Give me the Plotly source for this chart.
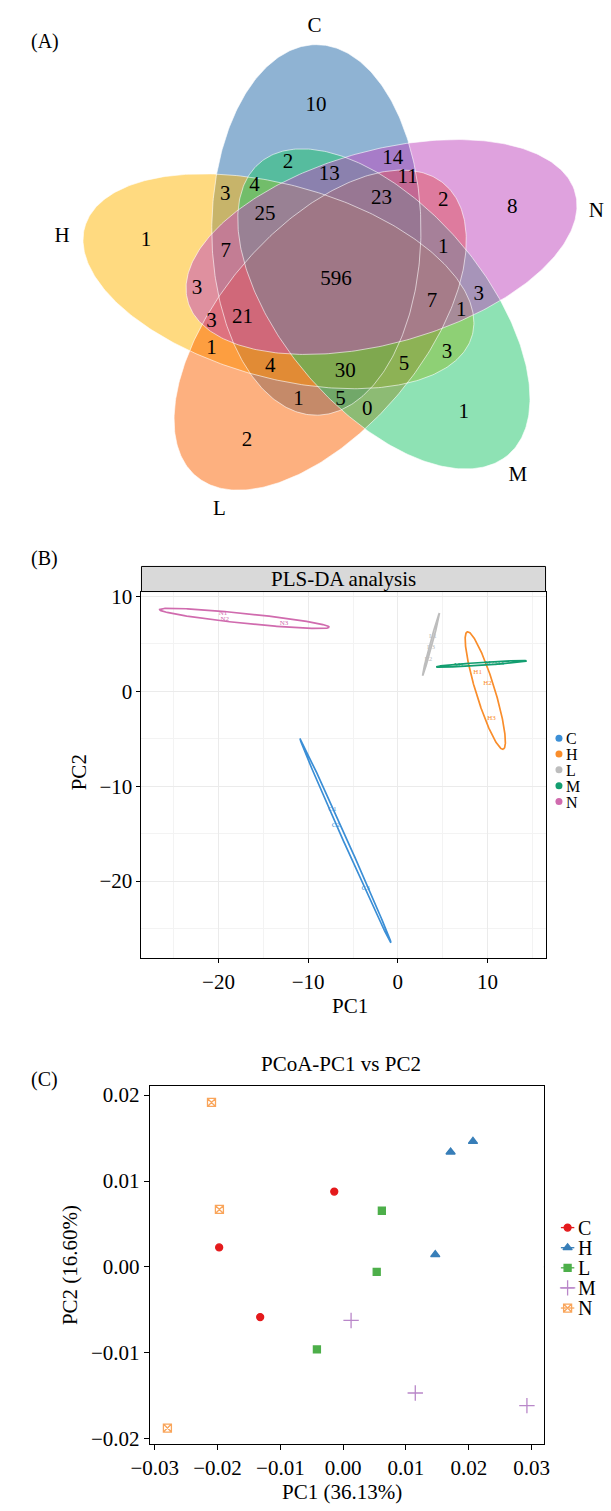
import numpy as np
import plotly.graph_objects as go

W, H = 611, 1511
FONT = "Liberation Serif"
FS = 21


def px(x):
    return x / W


def py(y):
    return 1 - y / H


# ---------------- Panel A: five-set Venn diagram ----------------
venn_names = ["C", "N", "M", "L", "H"]
venn_fill = {
    "C": "rgba(31,103,167,0.5)",
    "N": "rgba(191,69,189,0.5)",
    "M": "rgba(29,197,105,0.5)",
    "L": "rgba(251,97,0,0.5)",
    "H": "rgba(255,181,1,0.5)",
}
venn_draw_order = ["C", "H", "L", "M", "N"]

# region counts and where each one is written (pixel coordinates)
venn_counts = [10, 14, 13, 2, 11, 3, 4, 23, 2, 8, 25, 1, 7, 1, 596, 3, 3, 7, 1,
               3, 21, 1, 4, 30, 5, 3, 1, 5, 0, 1, 2]
venn_count_x = [309.8, 389.7, 323.5, 280.6, 405.3, 215.1, 245.5, 378.0, 442.3, 514.4,
                256.4, 132.5, 215.5, 442.3, 330.5, 185.5, 479.3, 430.6, 461.0,
                200.7, 233.0, 200.7, 261.9, 340.2, 401.4, 446.2, 291.5, 335.1,
                363.2, 463.8, 237.7]
venn_count_y = [100.0, 152.7, 169.3, 156.7, 172.7, 189.3, 180.0, 194.0, 196.0, 202.3,
                209.3, 236.0, 247.3, 243.3, 275.0, 284.0, 290.0, 297.7, 306.7,
                317.7, 313.3, 345.0, 362.7, 367.7, 360.7, 349.3, 396.7, 396.7,
                406.7, 410.0, 438.3]
venn_name_x = [308, 602, 520, 209, 45]
venn_name_y = [20, 207, 473, 507, 232]

# ellipse geometry: congruent ellipses rotated in 72 degree steps, stretched in x
VENN_OX, VENN_OY = 330.6, 275.0
VENN_R = 53.2
VENN_PHASE = -20.0
VENN_A, VENN_B = 187.0, 96.5
VENN_SX = 1.13


def venn_ellipse(k, n=360):
    th = np.radians(VENN_PHASE + 72 * k)
    cx = VENN_OX + VENN_SX * VENN_R * np.sin(th)
    cy = VENN_OY - VENN_R * np.cos(th)
    a = np.radians(72 * k)
    t = np.linspace(0, 2 * np.pi, n)
    ux, uy = np.sin(a), -np.cos(a)
    vx, vy = np.cos(a), np.sin(a)
    ex = VENN_A * np.cos(t) * ux + VENN_B * np.sin(t) * vx
    ey = VENN_A * np.cos(t) * uy + VENN_B * np.sin(t) * vy
    return cx + VENN_SX * ex, cy + ey


# ---------------- Panel B: PLS-DA ----------------
pls_groups = ["C", "H", "L", "M", "N"]
pls_colors = ["#3C8FD6", "#F98D2B", "#BDBDBD", "#139E70", "#D06BAE"]
pls_pc1 = [[-7.3, -6.9, -3.6], [8.9, 10.0, 10.45], [3.9, 3.4, 3.7],
           [6.8, 10.2, 11.3], [-19.5, -19.3, -12.7]]
pls_pc2 = [[-12.45, -14.1, -20.7], [2.0, 0.84, -2.8], [5.8, 3.4, 4.6],
           [2.75, 2.95, 3.0], [8.2, 7.6, 7.2]]
# confidence ellipses: centre x, centre y, semi-major, semi-minor, angle (deg)
pls_ellipses = [(-5.83, -15.77, 11.86, 0.21, -64.75),
                (9.75, 0.08, 6.5, 1.05, -72.0),
                (3.70, 4.95, 3.43, 0.12, 74.0),
                (9.32, 2.89, 5.05, 0.15, 3.5),
                (-17.1, 7.68, 9.51, 0.52, -5.6)]

# ---------------- Panel C: PCoA ----------------
pcoa_groups = ["C", "H", "L", "M", "N"]
pcoa_colors = ["#E41A1C", "#377EB8", "#4DAF4A", "#B987C9", "#F9A55B"]
pcoa_symbols = ["circle", "triangle-up", "square", "cross-thin-open", "square-x-open"]
pcoa_sizes = [7, 8, 7, 11, 8]
pcoa_pc1 = [[-0.00142, -0.01974, -0.01321], [0.02066, 0.0171, 0.01466],
            [0.00616, 0.00534, -0.00418], [0.00126, 0.01148, 0.02925],
            [-0.02096, -0.0197, -0.02798]]
pcoa_pc2 = [[0.00877, 0.00227, -0.00584], [0.01461, 0.01338, 0.00143],
            [0.00654, -0.00058, -0.00961], [-0.00623, -0.01468, -0.01615],
            [0.01915, 0.00669, -0.01876]]

fig = go.Figure()

# Venn fills
for name in venn_draw_order:
    k = venn_names.index(name)
    ex, ey = venn_ellipse(k)
    fig.add_trace(go.Scatter(x=ex, y=ey, mode="lines", fill="toself",
                             fillcolor=venn_fill[name], line=dict(width=0),
                             hoverinfo="skip", showlegend=False, xaxis="x", yaxis="y"))
# faint outlines
for name in venn_draw_order:
    k = venn_names.index(name)
    ex, ey = venn_ellipse(k)
    fig.add_trace(go.Scatter(x=ex, y=ey, mode="lines",
                             line=dict(width=1, color="rgba(255,255,255,0.6)"),
                             hoverinfo="skip", showlegend=False, xaxis="x", yaxis="y"))
fig.add_trace(go.Scatter(x=venn_count_x, y=venn_count_y, mode="text",
                         text=[str(v) for v in venn_counts],
                         textfont=dict(family=FONT, size=FS, color="black"),
                         hoverinfo="skip", showlegend=False, xaxis="x", yaxis="y"))
fig.add_trace(go.Scatter(x=venn_name_x, y=venn_name_y, mode="text", text=venn_names,
                         textfont=dict(family=FONT, size=FS, color="black"),
                         hoverinfo="skip", showlegend=False, xaxis="x", yaxis="y"))

# PLS-DA ellipses and sample labels
t = np.linspace(0, 2 * np.pi, 300)
for g, col, (cx, cy, a, b, ang), xs, ys in zip(pls_groups, pls_colors, pls_ellipses,
                                                pls_pc1, pls_pc2):
    r = np.radians(ang)
    ex = cx + a * np.cos(t) * np.cos(r) - b * np.sin(t) * np.sin(r)
    ey = cy + a * np.cos(t) * np.sin(r) + b * np.sin(t) * np.cos(r)
    fig.add_trace(go.Scatter(x=ex, y=ey, mode="lines", line=dict(color=col, width=1.7),
                             hoverinfo="skip", showlegend=False, xaxis="x2", yaxis="y2"))
    fig.add_trace(go.Scatter(x=xs, y=ys, mode="text",
                             text=[f"{g}{i + 1}" for i in range(len(xs))],
                             textfont=dict(family=FONT, size=7, color=col),
                             hoverinfo="skip", showlegend=False, xaxis="x2", yaxis="y2"))

# PCoA points
for g, col, sym, sz, xs, ys in zip(pcoa_groups, pcoa_colors, pcoa_symbols, pcoa_sizes,
                                    pcoa_pc1, pcoa_pc2):
    fig.add_trace(go.Scatter(x=xs, y=ys, mode="markers",
                             marker=dict(symbol=sym, size=sz, color=col,
                                         line=dict(width=1.3, color=col)),
                             hoverinfo="skip", showlegend=False, xaxis="x3", yaxis="y3"))

# Legends drawn on the full-page canvas axis
LEG_B_X, LEG_B_Y0, LEG_B_DY = 563, 738, 16.0
for i, (g, col) in enumerate(zip(pls_groups, pls_colors)):
    yy = LEG_B_Y0 + i * LEG_B_DY
    fig.add_trace(go.Scatter(x=[LEG_B_X], y=[yy], mode="markers",
                             marker=dict(symbol="circle", size=7, color=col),
                             hoverinfo="skip", showlegend=False, xaxis="x", yaxis="y"))
    fig.add_annotation(x=px(LEG_B_X + 6), y=py(yy), xref="paper", yref="paper",
                       text=g, showarrow=False, xanchor="left", yanchor="middle",
                       height=14, borderpad=0,
                       font=dict(family=FONT, size=16, color="black"))

LEG_C_X, LEG_C_Y0, LEG_C_DY = 572, 1232, 20.3
for i, (g, col, sym, sz) in enumerate(zip(pcoa_groups, pcoa_colors, pcoa_symbols, pcoa_sizes)):
    yy = LEG_C_Y0 + i * LEG_C_DY
    fig.add_trace(go.Scatter(x=[LEG_C_X - 7, LEG_C_X + 7], y=[yy, yy], mode="lines",
                             line=dict(color=col, width=1.3),
                             hoverinfo="skip", showlegend=False, xaxis="x", yaxis="y"))
    fig.add_trace(go.Scatter(x=[LEG_C_X], y=[yy], mode="markers",
                             marker=dict(symbol=sym, size=sz, color=col,
                                         line=dict(width=1.3, color=col)),
                             hoverinfo="skip", showlegend=False, xaxis="x", yaxis="y"))
    fig.add_annotation(x=px(LEG_C_X + 10), y=py(yy), xref="paper", yref="paper",
                       text=g, showarrow=False, xanchor="left", yanchor="middle",
                       height=18, borderpad=0,
                       font=dict(family=FONT, size=20, color="black"))


# Panel labels and titles
def label(x, y, text, size=FS, angle=0):
    fig.add_annotation(x=px(x), y=py(y), xref="paper", yref="paper", text=text,
                       showarrow=False, xanchor="center", yanchor="middle", textangle=angle,
                       font=dict(family=FONT, size=size, color="black"))


label(27, 35, "(A)", FS - 1)
label(27, 557, "(B)", FS - 1)
label(27, 1083, "(C)", FS - 1)
label(345, 1008, "PC1")
label(62, 772, "PC2", angle=-90)
label(336, 1067, "PCoA-PC1 vs PC2")
label(337, 1499, "PC1 (36.13%)")
label(53, 1270, "PC2 (16.60%)", angle=-90)

# PLS-DA strip header
B_L, B_R, B_T, B_B, STRIP_T = 127.7, 549.0, 590.0, 960.3, 564.7
fig.add_shape(type="rect", xref="paper", yref="paper", x0=px(B_L), x1=px(B_R),
              y0=py(B_T), y1=py(STRIP_T), fillcolor="#D9D9D9",
              line=dict(color="black", width=1))
label((B_L + B_R) / 2, 577.5, "PLS-DA analysis")

# PCoA zero reference lines
fig.add_shape(type="line", xref="x3", yref="y3 domain", x0=0, x1=0, y0=0, y1=1,
              line=dict(color="#C8C8C8", width=1.2, dash="8px,5px"), layer="below")
fig.add_shape(type="line", xref="x3 domain", yref="y3", x0=0, x1=1, y0=0, y1=0,
              line=dict(color="#C8C8C8", width=1.2, dash="8px,5px"), layer="below")

C_L, C_R, C_T, C_B = 136.3, 547.0, 1088.7, 1450.7

tickfont = dict(family=FONT, size=FS, color="black")
fig.update_layout(
    width=W, height=H, autosize=False,
    margin=dict(l=0, r=0, t=0, b=0, pad=0),
    paper_bgcolor="white", plot_bgcolor="white",
    showlegend=False,
    xaxis=dict(domain=[0, 1], range=[0, W], visible=False, fixedrange=True),
    yaxis=dict(domain=[0, 1], range=[H, 0], visible=False, fixedrange=True),
    xaxis2=dict(domain=[px(B_L), px(B_R)], anchor="y2",
                range=[(B_L - 395) / 9.35, (B_R - 395) / 9.35],
                tickvals=[-20, -10, 0, 10], ticks="outside", ticklen=4, tickcolor="black",
                showline=True, linecolor="black", linewidth=1, mirror=True,
                showgrid=True, gridcolor="#EBEBEB", gridwidth=1, zeroline=False,
                minor=dict(tickvals=[-25, -15, -5, 5, 15], showgrid=True,
                           gridcolor="#F3F3F3", gridwidth=0.8, ticks=""),
                tickfont=tickfont),
    yaxis2=dict(domain=[py(B_B), py(B_T)], anchor="x2",
                range=[(690.7 - B_B) / 9.58, (690.7 - B_T) / 9.58],
                tickvals=[-20, -10, 0, 10], ticks="outside", ticklen=4, tickcolor="black",
                showline=True, linecolor="black", linewidth=1, mirror=True,
                showgrid=True, gridcolor="#EBEBEB", gridwidth=1, zeroline=False,
                minor=dict(tickvals=[-25, -15, -5, 5], showgrid=True,
                           gridcolor="#F3F3F3", gridwidth=0.8, ticks=""),
                tickfont=tickfont),
    xaxis3=dict(domain=[px(C_L), px(C_R)], anchor="y3",
                range=[(C_L - 338) / 6550, (C_R - 338) / 6550],
                tickvals=[-0.03, -0.02, -0.01, 0, 0.01, 0.02, 0.03], tickformat=".2f",
                ticks="outside", ticklen=5, tickcolor="black",
                showline=True, linecolor="black", linewidth=1, mirror=True,
                showgrid=False, zeroline=False, tickfont=tickfont),
    yaxis3=dict(domain=[py(C_B), py(C_T)], anchor="x3",
                range=[(1271.7 - C_B) / 8670, (1271.7 - C_T) / 8670],
                tickvals=[-0.02, -0.01, 0, 0.01, 0.02], tickformat=".2f",
                ticks="outside", ticklen=5, tickcolor="black",
                showline=True, linecolor="black", linewidth=1, mirror=True,
                showgrid=False, zeroline=False, tickfont=tickfont),
)

fig.write_html("out.html")
